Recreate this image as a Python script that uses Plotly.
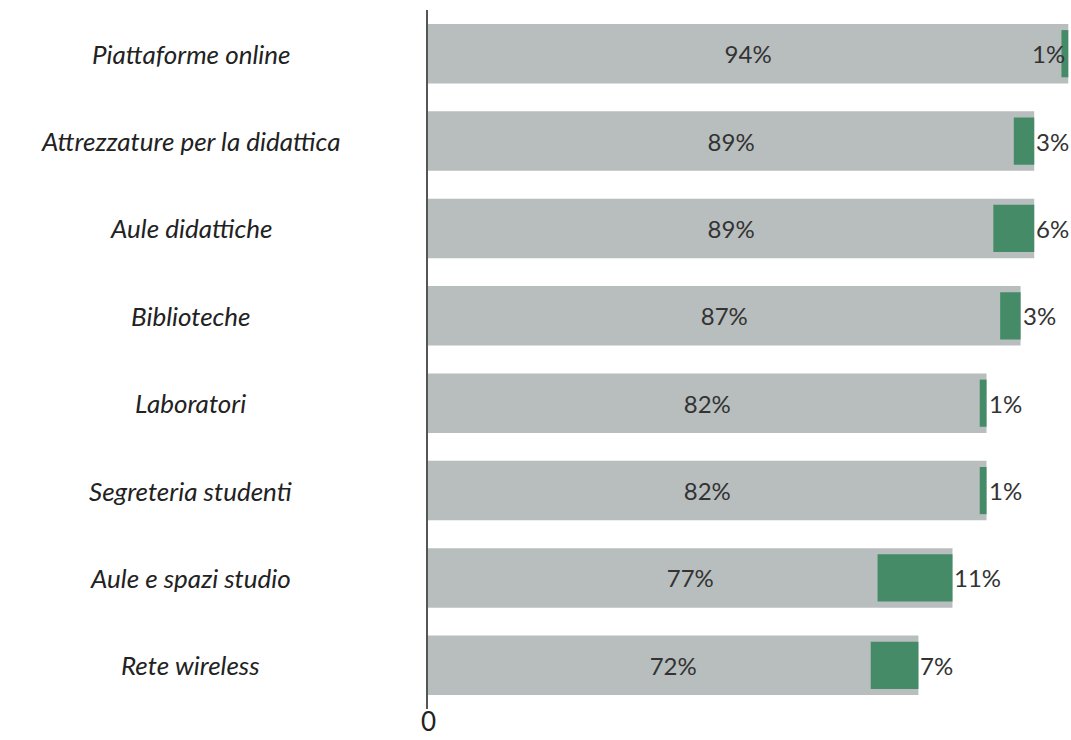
import plotly.graph_objects as go

categories = ["Piattaforme online", "Attrezzature per la didattica", "Aule didattiche",
              "Biblioteche", "Laboratori", "Segreteria studenti",
              "Aule e spazi studio", "Rete wireless"]
main_values = [94, 89, 89, 87, 82, 82, 77, 72]
green_values = [1, 3, 6, 3, 1, 1, 11, 7]
x_tick_label = "0"

GRAY = "#B8BEBE"
GREEN = "#458B67"
XMAX = 94.4
FONT = "Lato"

fig = go.Figure()
fig.add_trace(go.Bar(
    y=categories, x=main_values, orientation="h",
    marker=dict(color=GRAY, line=dict(width=0)), width=0.68,
    text=[f"{v}%" for v in main_values], textposition="inside",
    insidetextanchor="middle",
    textfont=dict(family=FONT, size=24, color="#333333"),
    hoverinfo="skip",
))
fig.add_trace(go.Bar(
    y=categories, x=green_values, base=[m - g for m, g in zip(main_values, green_values)],
    orientation="h", marker=dict(color=GREEN, line=dict(width=0)), width=0.54,
    hoverinfo="skip",
))

for cat, m, g in zip(categories, main_values, green_values):
    right_anchor = m > XMAX - 2
    fig.add_annotation(
        x=m, y=cat, xref="x", yref="y", text=f"{g}%", showarrow=False,
        xanchor="right" if right_anchor else "left",
        xshift=-1 if right_anchor else 0,
        font=dict(family=FONT, size=24, color="#333333"),
    )
    fig.add_annotation(
        x=-0.3686, y=cat, xref="paper", yref="y", text=f"<i>{cat}</i>",
        showarrow=False, xanchor="center",
        font=dict(family=FONT, size=26, color="#222222"),
    )

# x-axis "0" tick label placed at x=0 below the plot
fig.add_annotation(
    x=0, y=0, xref="x", yref="paper", text=x_tick_label, showarrow=False,
    xanchor="center", yanchor="bottom", yshift=-30,
    font=dict(family=FONT, size=26, color="#222222"),
)

fig.update_layout(
    width=1071, height=740,
    margin=dict(l=428, r=0, t=10, b=31),
    paper_bgcolor="white", plot_bgcolor="white",
    barmode="overlay", showlegend=False,
    xaxis=dict(range=[0, XMAX], showticklabels=False, showgrid=False,
               zeroline=False, showline=False, ticks="", automargin=False),
    yaxis=dict(autorange="reversed", showticklabels=False, showgrid=False,
               zeroline=False, showline=True, linecolor="#555555", linewidth=1.5,
               ticks="", automargin=False),
)

fig.write_html("out.html", config={"displayModeBar": False},
               post_script="document.body.style.margin='0';document.body.style.overflow='hidden';")
